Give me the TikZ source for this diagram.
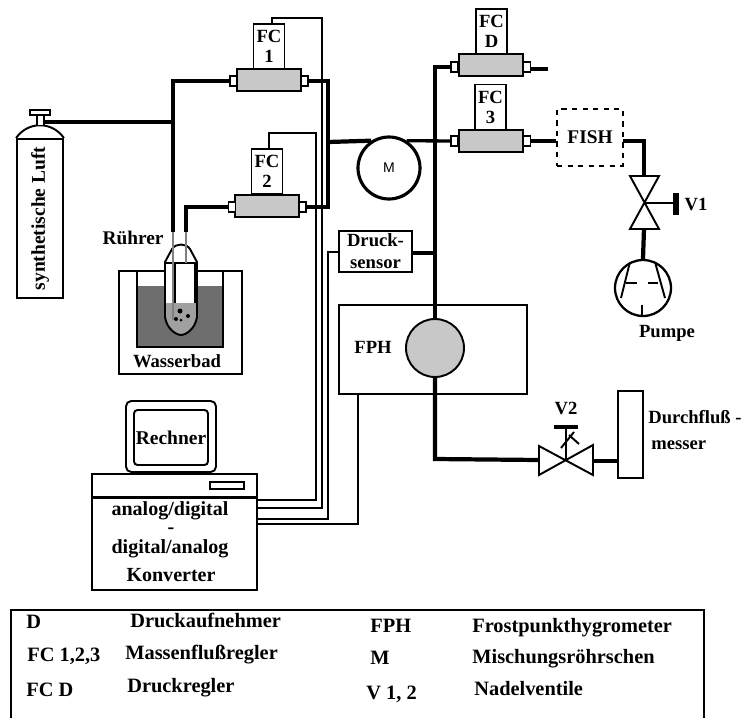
\documentclass[tikz,border=0pt]{standalone}
\usepackage{fontspec}
\setmainfont{Liberation Serif}
\setsansfont{Liberation Sans}
\usepackage{xcolor}
\definecolor{grauRegler}{HTML}{C8C8C8}
\definecolor{grauWasser}{HTML}{6E6E6E}
\definecolor{grauKolben}{HTML}{A0A0A0}
\usepackage{tikz}
\tikzset{
  rohr/.style={line width=1.9pt},
  rohrdick/.style={line width=2.4pt},
  signal/.style={line width=1.1pt},
  wand/.style={line width=1.1pt},
  beschr/.style={inner sep=0pt,text height=0.68em,text depth=0.02em},
  wandler/.style={inner sep=0pt,text height=0.68em,text depth=0.02em,font=\fontsize{11.4}{12}\selectfont\bfseries},
  legende/.style={anchor=west,inner sep=0pt,text height=0.68em,text depth=0.02em,font=\fontsize{11.6}{13}\selectfont\bfseries},
  fcbox/.style={draw,wand,fill=white,inner sep=0pt,align=center,minimum width=0.62cm,minimum height=0.9cm},
  regler/.style={draw,wand,fill=grauRegler,inner sep=0pt,minimum width=1.28cm,minimum height=0.44cm},
  anschluss/.style={draw,wand,fill=white,inner sep=0pt,minimum width=0.14cm,minimum height=0.21cm}
}

\begin{document}
\begin{tikzpicture}[x=0.02cm,y=-0.02cm,font=\fontsize{10.6}{11.3}\selectfont\bfseries]
\useasboundingbox (0,0) rectangle (752,718);

% Gasflasche
\node[draw,wand,rotate=90,inner sep=0pt,minimum width=3.18cm,minimum height=0.92cm,font=\fontsize{11.1}{12}\selectfont\bfseries] (luft) at (40,218.5) {synthetische Luft};
\draw[wand] (luft.north east) .. controls (28,121) and (52,121) .. (luft.south east);
\node[draw,wand,fill=white,inner sep=0pt,minimum width=0.14cm,minimum height=0.22cm] (hals) at (40.5,120) {};
\node[draw,wand,fill=white,inner sep=0pt,minimum width=0.4cm,minimum height=0.09cm] (kappe) at (40,112.5) {};

% Wasserbad
\node[draw,wand,inner sep=0pt,minimum width=2.46cm,minimum height=2.06cm] (bad) at (180.5,322.5) {};
\fill[grauWasser] (137,286) rectangle (223,347);
\draw[wand] (137,271) -- (137,347) -- (223,347) -- (223,271);
\node[beschr] (badtext) at (177,362) {Wasserbad};

% Kolben
\fill[white] (165,262) -- (165,317) .. controls (167,330) and (177,335) .. (181,335) .. controls (185,335) and (195,330) .. (197,317) -- (197,262) -- (190,246) -- (172,246) -- cycle;
\fill[grauKolben] (165,303) -- (165,317) .. controls (167,330) and (177,335) .. (181,335) .. controls (185,335) and (195,330) .. (197,317) -- (197,303) -- cycle;
\draw[wand] (165,262) -- (165,317) .. controls (167,330) and (177,335) .. (181,335) .. controls (185,335) and (195,330) .. (197,317) -- (197,262) -- (190,249) .. controls (186,243) and (176,243) .. (172,249) -- cycle;
\draw[wand] (165,263) -- (197,263);
\draw[wand] (175,263) -- (175,303);
\draw[wand] (195,263) -- (195,303);
\fill (180,311) circle (2.5);
\fill (188,316) circle (2);
\fill (176,319) circle (2);
\fill (181,320) circle (1.5);

% Rohre
\coordinate (knotenLuft) at (173,122);
\coordinate (knotenMisch) at (328,142);
\coordinate (knotenSchluss) at (435,142);
\coordinate (ruehrerA) at (173,232);
\coordinate (ruehrerB) at (186,232);
\draw[gray,line width=1.7pt] (ruehrerA) -- (173,320);
\draw[gray,line width=1.7pt] (ruehrerB) -- (186,263);
\node[beschr,font=\fontsize{11}{12}\selectfont\bfseries] (ruehrer) at (133,239) {Rührer};

% Regler
\node[fcbox] (fcEins) at (269,46.5) {FC\\1};
\node[regler] (reglerEins) at (269,80) {};
\node[anschluss] (einsL) at (233.5,81) {};
\node[anschluss] (einsR) at (304.5,81) {};

\node[fcbox] (fcZwei) at (267,171.5) {FC\\2};
\node[regler] (reglerZwei) at (267,206) {};
\node[anschluss] (zweiL) at (232,207) {};
\node[anschluss] (zweiR) at (302.5,207) {};

\node[fcbox] (fcDrei) at (490.5,107) {FC\\3};
\node[regler] (reglerDrei) at (491,141) {};
\node[anschluss] (dreiL) at (454.5,141) {};
\node[anschluss] (dreiR) at (527,141) {};

\node[fcbox] (fcD) at (491.5,31.5) {FC\\D};
\node[regler] (reglerD) at (491,65) {};
\node[anschluss] (dL) at (454.5,67) {};
\node[anschluss] (dR) at (527,67) {};
\coordinate (dEnde) at (548,69);

\draw[rohr] (hals.east |- knotenLuft) -- (knotenLuft);
\draw[rohr] (einsL.west) -| (ruehrerA);
\draw[rohrdick] (zweiL.west) -| (ruehrerB);
\draw[rohr] (einsR.east) -| (knotenMisch);
\draw[rohr] (zweiR.east) -| (knotenMisch);
\draw[rohrdick] (dR.east |- dEnde) -- (dEnde);

% Mischer
\node[draw,line width=1.8pt,circle,fill=white,inner sep=0pt,minimum size=1.24cm,font=\fontsize{8}{9}\selectfont\sffamily] (misch) at (389,168) {M};
\draw[rohrdick] (knotenMisch) -- (misch.123);
\draw[rohr] (misch.57) -- (dreiL.west);

% FISH und V1
\node[draw,wand,dashed,inner sep=0pt,minimum width=1.32cm,minimum height=1.14cm,font=\fontsize{11}{12}\selectfont\bfseries] (fish) at (590,137.5) {FISH};
\coordinate (fishAus) at (623,141);
\coordinate (veinsOben) at (644,176);
\coordinate (veinsMitte) at (644,203);
\coordinate (veinsUnten) at (644,229);
\coordinate (veinsBalken) at (676,203);
\draw[rohrdick] (dreiR.east) -- (fish.west |- dreiR.east);
\draw[rohrdick] (fishAus) -| (veinsOben);
\draw[wand] (630,176) -- (659,176) -- (630,229) -- (659,229) -- cycle;
\draw[wand] (veinsMitte) -- (veinsBalken);
\draw[line width=3pt] (676,193) -- (676,215);
\node[beschr] (veins) at (696,205) {V1};

% Pumpe
\node[draw,line width=1.3pt,circle,inner sep=0pt,minimum size=1.12cm] (pumpe) at (643,288) {};
\draw[rohrdick] (veinsUnten) -- (pumpe.north);
\draw[wand] (630,262) -- (621,298);
\draw[wand] (655,262) -- (665,298);
\draw[signal] (626,283) -- (637,283);
\draw[signal] (648,283) -- (658,283);
\draw[wand] (642,305) -- (642,316);
\node[beschr] (pumpetext) at (667,332) {Pumpe};

% Drucksensor
\node[draw,wand,inner sep=0pt,minimum width=1.46cm,minimum height=0.82cm,align=center,font=\fontsize{10.6}{12.4}\selectfont\bfseries] (druck) at (375.5,251.5) {Druck-\\sensor};

% FPH
\node[draw,wand,inner sep=0pt,minimum width=3.76cm,minimum height=1.78cm] (fph) at (433,349.5) {};
\node[beschr] (fphtext) at (373,348) {FPH};
\node[draw,wand,circle,fill=grauRegler,inner sep=0pt,minimum size=1.16cm] (taupunkt) at (435,348) {};
\coordinate (knotenOben) at (435,69);
\coordinate (knotenDruck) at (435,253);
\coordinate (veckeUnten) at (435,459);
\draw[rohrdick] (dL.west) -| (taupunkt.north);
\draw[rohrdick] (druck.east |- knotenDruck) -- (knotenDruck);

% V2 und Durchfluss
\node[draw,wand,inner sep=0pt,minimum width=0.5cm,minimum height=1.74cm] (durchfluss) at (630.5,434.5) {};
\coordinate (vzweiL) at (539,460);
\coordinate (vzweiM) at (566,460);
\coordinate (vzweiR) at (593,461);
\coordinate (vzweiBalken) at (566,427);
\draw[rohrdick] (taupunkt.south) -- (veckeUnten) -- (vzweiL);
\draw[wand] (539,446) -- (539,475) -- (593,445) -- (593,475) -- cycle;
\draw[rohrdick] (vzweiR) -- (vzweiR -| durchfluss.west);
\draw[wand] (vzweiM) -- (vzweiBalken);
\draw[line width=2.4pt] (554,427) -- (578,427);
\draw[signal] (561,448) -- (574,432);
\draw[signal] (569,435) -- (579,444);
\node[beschr] (vzwei) at (566,409) {V2};
\node[beschr,anchor=west] (dftextA) at (648,418) {Durchfluß -};
\node[beschr,anchor=west] (dftextB) at (651,444) {messer};

% Rechner
\node[draw,wand,rounded corners=3pt,inner sep=0pt,minimum width=1.8cm,minimum height=1.42cm] (monitor) at (171,436.5) {};
\node[draw,wand,rounded corners=2pt,inner sep=0pt,minimum width=1.48cm,minimum height=1.1cm,font=\fontsize{11.1}{12}\selectfont\bfseries] (rechner) at (171,437.5) {Rechner};
\node[draw,wand,inner sep=0pt,minimum width=3.3cm,minimum height=2.32cm] (konverter) at (174.5,532) {};
\draw[line width=1.7pt] (konverter.west |- 0,497) -- (konverter.east |- 0,497);
\node[draw,wand,inner sep=0pt,minimum width=0.68cm,minimum height=0.14cm] (schlitz) at (227,485.5) {};
\node[wandler] (wandlerA) at (170,510) {analog/digital};
\node[wandler,text height=0.3em] (wandlerB) at (171,531) {-};
\node[wandler] (wandlerC) at (170,548) {digital/analog};
\node[wandler] (wandlerD) at (171,576) {Konverter};

% Signalleitungen
\coordinate (sigEins) at (272,18);
\coordinate (sigEinsB) at (322,508);
\coordinate (sigZwei) at (269,133);
\coordinate (sigZweiB) at (316,500);
\coordinate (sigDruck) at (328,252);
\coordinate (sigDruckB) at (328,519);
\coordinate (sigFph) at (358,524);
\draw[signal] (sigEins |- fcEins.north) -- (sigEins) -| (sigEinsB) -- (konverter.east |- sigEinsB);
\draw[signal] (sigZwei |- fcZwei.north) -- (sigZwei) -| (sigZweiB) -- (konverter.east |- sigZweiB);
\draw[signal] (druck.west |- sigDruck) -- (sigDruck) -- (sigDruckB) -- (konverter.east |- sigDruckB);
\draw[signal] (sigFph |- fph.south) -- (sigFph) -- (konverter.east |- sigFph);

% Legende
\draw[line width=1.5pt] (11,718) -- (11,610) -- (704,610) -- (704,718);
\node[legende] (legA) at (26,623) {D};
\node[legende] (legB) at (130,622) {Druckaufnehmer};
\node[legende] (legC) at (27,656) {FC 1,2,3};
\node[legende] (legD) at (125,654) {Massenflußregler};
\node[legende] (legE) at (26,691) {FC D};
\node[legende] (legF) at (127,687) {Druckregler};
\node[legende] (legG) at (370,627) {FPH};
\node[legende] (legH) at (472,627) {Frostpunkthygrometer};
\node[legende] (legI) at (370,659) {M};
\node[legende] (legJ) at (472,658) {Mischungsröhrschen};
\node[legende] (legK) at (366,694) {V 1, 2};
\node[legende] (legL) at (474,690) {Nadelventile};

\end{tikzpicture}
\end{document}
